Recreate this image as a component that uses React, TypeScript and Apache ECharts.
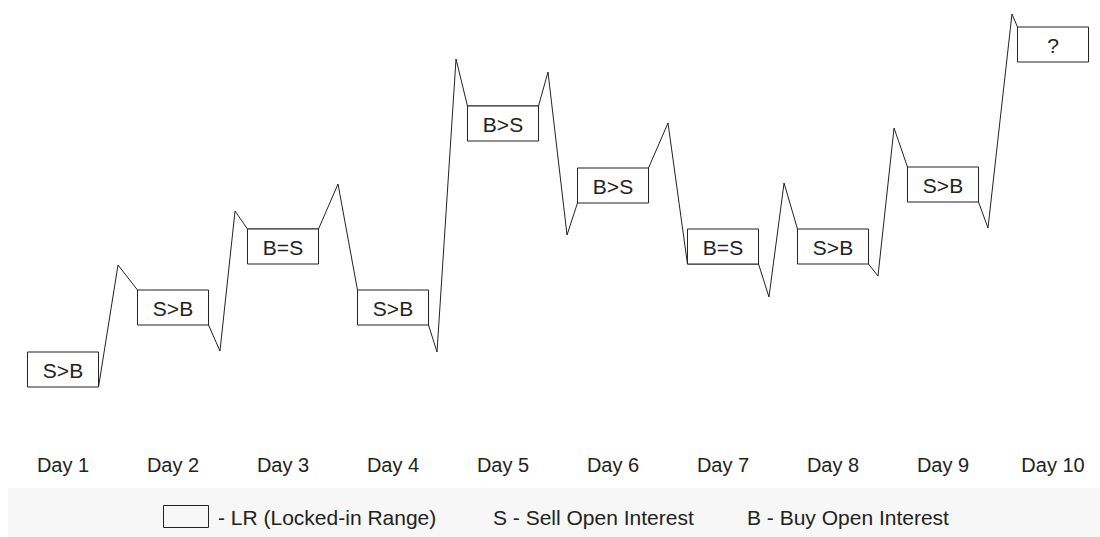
import React, { useEffect, useRef } from "react";
import * as echarts from "echarts";

const days = ["Day 1", "Day 2", "Day 3", "Day 4", "Day 5", "Day 6", "Day 7", "Day 8", "Day 9", "Day 10"];
const boxLow = [13, 75, 136, 75, 259, 197, 136, 136, 198, 338];
const boxHigh = [48, 110, 171, 110, 294, 232, 171, 171, 233, 373];
const boxLabels = ["S>B", "S>B", "B=S", "S>B", "B>S", "B>S", "B=S", "S>B", "S>B", "?"];

const pathX = [
  0.323, 0.5, 0.677, 1.323, 1.427, 1.564, 1.677, 2.323, 2.5, 2.677, 3.323, 3.4, 3.573, 3.677,
  4.323, 4.409, 4.582, 4.677, 5.323, 5.5, 5.677, 6.323, 6.418, 6.555, 6.677, 7.323, 7.409,
  7.555, 7.677, 8.323, 8.409, 8.627, 8.677,
];
const pathY = [
  13, 135, 110, 75, 49, 189, 171, 171, 216, 110, 75, 48, 341, 294,
  294, 328, 165, 197, 232, 277, 136, 136, 103, 217, 171, 136, 124,
  272, 233, 198, 172, 386, 373,
];

const legendItems = ["- LR (Locked-in Range)", "S - Sell Open Interest", "B - Buy Open Interest"];

const FONT = '"Liberation Sans", Arial, sans-serif';
const INK = "#222";

export default function App() {
  const ref = useRef<HTMLDivElement>(null);
  useEffect(() => {
    if (!ref.current) return;
    const chart = echarts.init(ref.current, null, { renderer: "svg" });
    const halfW = 0.323;
    chart.setOption({
      animation: false,
      grid: { left: 8, right: 0, top: 8, height: 392, outerBoundsMode: "none" },
      xAxis: [
        {
          type: "category",
          data: days,
          boundaryGap: true,
          axisLine: { show: false },
          axisTick: { show: false },
          splitLine: { show: false },
          axisLabel: { margin: 55, fontSize: 20, fontFamily: FONT, color: INK },
        },
        { type: "value", min: -0.5, max: 9.5, show: false, splitLine: { show: false } },
      ],
      yAxis: { type: "value", min: 0, max: 392, show: false, splitLine: { show: false } },
      graphic: [
        { type: "rect", shape: { x: 8, y: 488, width: 1100, height: 60 }, style: { fill: "#f7f7f7" }, z: -10 },
        {
          type: "rect",
          shape: { x: 163.5, y: 505.5, width: 45, height: 22 },
          style: { fill: "none", stroke: INK, lineWidth: 1 },
        },
        ...legendItems.map((t, i) => ({
          type: "text",
          x: [218, 493, 747][i],
          y: 517,
          style: { text: t, fontSize: 21, fontFamily: FONT, fill: INK, align: "left", verticalAlign: "middle" },
        })),
      ],
      series: [
        {
          type: "line",
          xAxisIndex: 1,
          data: pathX.map((x, i) => [x, pathY[i]]),
          symbol: "none",
          lineStyle: { color: INK, width: 1 },
          z: 2,
        },
        {
          type: "custom",
          xAxisIndex: 1,
          data: days.map((_, i) => [i, boxLow[i], boxHigh[i]]),
          renderItem: (params: any, api: any) => {
            const i = api.value(0);
            const lo = api.value(1);
            const hi = api.value(2);
            const p1 = api.coord([i - halfW, hi]);
            const p2 = api.coord([i + halfW, lo]);
            const cx = (p1[0] + p2[0]) / 2;
            const cy = (p1[1] + p2[1]) / 2;
            return {
              type: "group",
              children: [
                {
                  type: "rect",
                  shape: { x: p1[0], y: p1[1], width: p2[0] - p1[0], height: p2[1] - p1[1] },
                  style: { fill: "#fff", stroke: INK, lineWidth: 1 },
                },
                {
                  type: "text",
                  style: {
                    text: boxLabels[params.dataIndex],
                    x: cx,
                    y: cy + 1,
                    align: "center",
                    verticalAlign: "middle",
                    fontSize: 21,
                    fontFamily: FONT,
                    fill: INK,
                  },
                },
              ],
            };
          },
          z: 3,
        },
      ],
    });
    return () => chart.dispose();
  }, []);
  return (
    <div
      style={{ position: "absolute", left: 0, top: 0, width: 1100, height: 537, overflow: "hidden", background: "#fff" }}
    >
      <div ref={ref} style={{ width: 1108, height: 537 }} />
    </div>
  );
}
